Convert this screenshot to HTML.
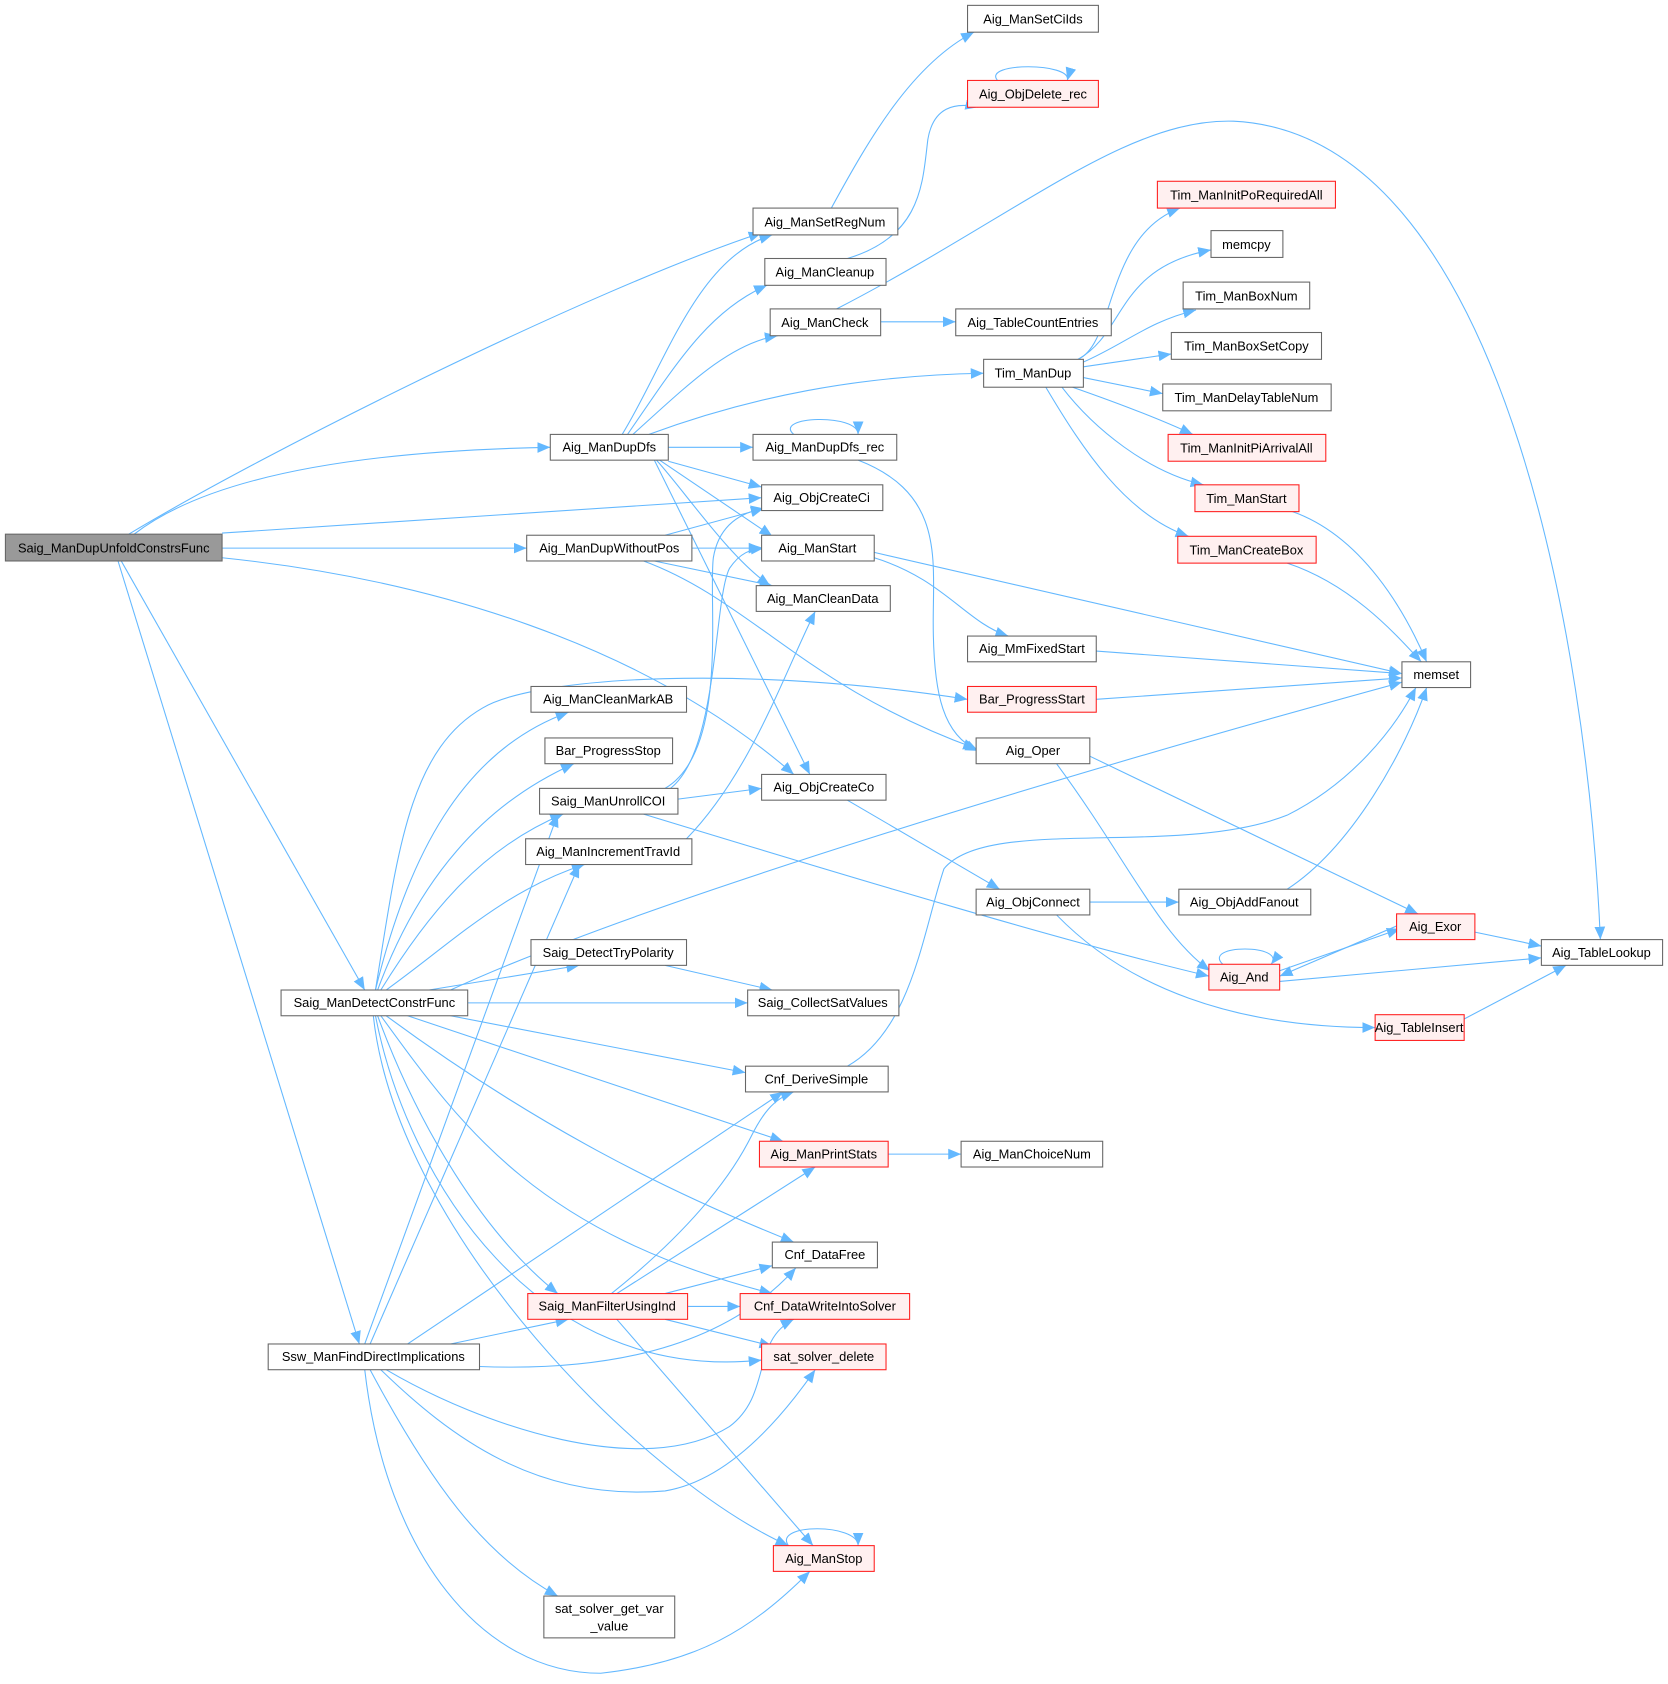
<!DOCTYPE html>
<html><head><meta charset="utf-8"><style>
html,body{margin:0;padding:0;background:#fff}
svg{display:block}
text{font-family:"Liberation Sans",Arial,sans-serif;font-size:12px;fill:#000;text-anchor:middle}
.n{fill:#fff;stroke:#666;stroke-width:1}
.r{fill:#fff0f0;stroke:#ff2020;stroke-width:1}
.g{fill:#999;stroke:#666;stroke-width:1}
.e{fill:none;stroke:#63b8ff;stroke-width:1;marker-end:url(#a)}
</style></head><body>
<svg width="1668" height="1684" viewBox="0 0 1555 1570" xmlns="http://www.w3.org/2000/svg">
<defs><marker id="a" markerUnits="userSpaceOnUse" markerWidth="13" markerHeight="11" refX="12" refY="5.5" orient="auto"><path d="M0,0.5 L12,5.5 L0,10.5 z" fill="#63b8ff"/></marker></defs>
<g>
<path class="e" d="M120,498 C250,420 550,270 710,217"/>
<path class="e" d="M125,498 C200,440 350,420 513,417"/>
<path class="e" d="M207,497 L710,464"/>
<path class="e" d="M207,511 L491,511"/>
<path class="e" d="M207,520 C400,540 600,600 740,722"/>
<path class="e" d="M113,523 L340,923"/>
<path class="e" d="M110,523 L335,1253"/>
<path class="e" d="M580,405 C620,340 650,240 720,219"/>
<path class="e" d="M585,405 C630,340 660,290 715,266"/>
<path class="e" d="M590,405 C640,360 680,320 725,313"/>
<path class="e" d="M605,405 C700,370 800,350 917,348"/>
<path class="e" d="M623,417 L702,417"/>
<path class="e" d="M623,430 L710,454"/>
<path class="e" d="M615,429 L720,500"/>
<path class="e" d="M612,429 C640,460 680,520 718,546"/>
<path class="e" d="M610,429 L755,722"/>
<path class="e" d="M740,405 C720,388 800,385 800,405"/>
<path class="e" d="M800,429 C880,460 870,520 870,580 C870,650 880,685 912,700"/>
<path class="e" d="M620,499 L712,474"/>
<path class="e" d="M645,511 L710,511"/>
<path class="e" d="M610,523 L720,546"/>
<path class="e" d="M600,523 C700,560 750,640 910,698"/>
<path class="e" d="M815,515 L1307,628"/>
<path class="e" d="M815,520 C880,540 900,580 940,593"/>
<path class="e" d="M821,300 L891,300"/>
<path class="e" d="M780,288 C950,200 1050,110 1150,113 C1400,125 1480,600 1492,876"/>
<path class="e" d="M790,241 C860,220 860,170 865,130 C870,100 890,95 912,100"/>
<path class="e" d="M930,75 C915,58 1000,58 995,75"/>
<path class="e" d="M775,194 C810,130 850,60 908,30"/>
<path class="e" d="M1005,335 C1040,320 1030,220 1100,194"/>
<path class="e" d="M1005,335 C1050,310 1040,250 1129,233"/>
<path class="e" d="M1009,338 C1050,320 1070,300 1115,289"/>
<path class="e" d="M1010,342 L1092,330"/>
<path class="e" d="M1010,352 L1084,367"/>
<path class="e" d="M1000,361 C1040,375 1080,390 1112,405"/>
<path class="e" d="M990,361 C1020,400 1070,440 1122,452"/>
<path class="e" d="M975,361 C1010,420 1050,480 1108,500"/>
<path class="e" d="M1205,477 C1270,500 1310,570 1330,617"/>
<path class="e" d="M1200,525 C1260,545 1300,590 1325,617"/>
<path class="e" d="M1022,607 L1307,628"/>
<path class="e" d="M1022,652 L1307,632"/>
<path class="e" d="M1016,705 L1322,852"/>
<path class="e" d="M985,712 C1050,800 1080,870 1128,905"/>
<path class="e" d="M790,746 L932,829"/>
<path class="e" d="M1016,841 L1099,841"/>
<path class="e" d="M985,853 C1050,920 1150,958 1282,958"/>
<path class="e" d="M1200,829 C1260,790 1310,700 1330,641"/>
<path class="e" d="M1140,899 C1120,880 1200,880 1185,899"/>
<path class="e" d="M1193,905 L1305,866"/>
<path class="e" d="M1305,862 L1193,910"/>
<path class="e" d="M1193,915 L1437,893"/>
<path class="e" d="M1375,869 L1437,882"/>
<path class="e" d="M1365,950 L1460,900"/>
<path class="e" d="M620,735 C680,700 660,560 665,520 C670,490 690,478 712,474"/>
<path class="e" d="M625,735 C670,700 665,560 680,530 C690,515 700,512 712,511"/>
<path class="e" d="M632,745 L710,735"/>
<path class="e" d="M600,759 C800,820 1000,880 1127,910"/>
<path class="e" d="M640,782 C700,720 730,630 760,570"/>
<path class="e" d="M790,994 C850,960 860,870 880,810 C920,760 1100,800 1200,760 C1260,730 1300,680 1320,641"/>
<path class="e" d="M828,1076 L896,1076"/>
<path class="e" d="M620,900 L720,923"/>
<path class="e" d="M350,923 C370,800 380,700 450,660 C500,630 700,620 902,652"/>
<path class="e" d="M350,923 C380,800 430,700 530,664"/>
<path class="e" d="M352,923 C390,820 450,750 535,712"/>
<path class="e" d="M355,923 C400,850 450,790 525,759"/>
<path class="e" d="M360,923 C420,880 470,830 545,806"/>
<path class="e" d="M400,923 L540,900"/>
<path class="e" d="M420,923 C600,840 1000,720 1307,636"/>
<path class="e" d="M436,935 L697,935"/>
<path class="e" d="M420,947 L695,1000"/>
<path class="e" d="M380,947 L730,1064"/>
<path class="e" d="M360,947 C500,1050 620,1110 740,1158"/>
<path class="e" d="M355,947 C430,1050 500,1150 720,1206"/>
<path class="e" d="M352,947 C390,1050 450,1150 520,1206"/>
<path class="e" d="M350,947 C380,1100 500,1290 710,1268"/>
<path class="e" d="M348,947 C370,1150 600,1380 735,1441"/>
<path class="e" d="M340,1253 L520,759"/>
<path class="e" d="M345,1253 L540,806"/>
<path class="e" d="M380,1253 L730,1018"/>
<path class="e" d="M420,1253 L530,1230"/>
<path class="e" d="M447,1274 C600,1280 690,1240 742,1182"/>
<path class="e" d="M360,1277 C450,1330 600,1380 680,1330 C720,1300 700,1250 740,1230"/>
<path class="e" d="M355,1277 C420,1340 500,1400 620,1390 C680,1380 730,1320 760,1277"/>
<path class="e" d="M340,1277 C360,1450 450,1560 560,1560 C650,1550 700,1520 755,1465"/>
<path class="e" d="M345,1277 C400,1380 450,1450 520,1488"/>
<path class="e" d="M570,1206 C640,1150 680,1100 700,1060 C710,1040 720,1025 740,1018"/>
<path class="e" d="M575,1206 L760,1088"/>
<path class="e" d="M620,1206 L720,1180"/>
<path class="e" d="M641,1218 L690,1218"/>
<path class="e" d="M620,1230 L720,1255"/>
<path class="e" d="M575,1230 L758,1441"/>
<path class="e" d="M735,1441 C720,1420 800,1420 800,1441"/>
</g>
<g>
<rect class="g" x="5" y="498" width="202" height="25"/><text x="106" y="515">Saig_ManDupUnfoldConstrsFunc</text>
<rect class="n" x="902" y="5" width="122" height="25"/><text x="963" y="22">Aig_ManSetCiIds</text>
<rect class="r" x="902" y="75" width="122" height="25"/><text x="963" y="92">Aig_ObjDelete_rec</text>
<rect class="n" x="702" y="194" width="135" height="25"/><text x="769" y="211">Aig_ManSetRegNum</text>
<rect class="n" x="713" y="241" width="113" height="25"/><text x="769" y="258">Aig_ManCleanup</text>
<rect class="n" x="718" y="288" width="103" height="25"/><text x="769" y="305">Aig_ManCheck</text>
<rect class="n" x="891" y="288" width="145" height="25"/><text x="963" y="305">Aig_TableCountEntries</text>
<rect class="r" x="1079" y="169" width="166" height="25"/><text x="1162" y="186">Tim_ManInitPoRequiredAll</text>
<rect class="n" x="1129" y="215" width="67" height="25"/><text x="1162" y="232">memcpy</text>
<rect class="n" x="1103" y="263" width="118" height="25"/><text x="1162" y="280">Tim_ManBoxNum</text>
<rect class="n" x="1092" y="310" width="140" height="25"/><text x="1162" y="327">Tim_ManBoxSetCopy</text>
<rect class="n" x="1084" y="358" width="157" height="25"/><text x="1162" y="375">Tim_ManDelayTableNum</text>
<rect class="r" x="1089" y="405" width="147" height="25"/><text x="1162" y="422">Tim_ManInitPiArrivalAll</text>
<rect class="r" x="1114" y="452" width="97" height="25"/><text x="1162" y="469">Tim_ManStart</text>
<rect class="r" x="1098" y="500" width="129" height="25"/><text x="1162" y="517">Tim_ManCreateBox</text>
<rect class="n" x="917" y="335" width="93" height="26"/><text x="963" y="352">Tim_ManDup</text>
<rect class="n" x="513" y="405" width="110" height="24"/><text x="568" y="421">Aig_ManDupDfs</text>
<rect class="n" x="702" y="405" width="134" height="24"/><text x="769" y="421">Aig_ManDupDfs_rec</text>
<rect class="n" x="710" y="452" width="113" height="24"/><text x="766" y="468">Aig_ObjCreateCi</text>
<rect class="n" x="710" y="499" width="105" height="24"/><text x="762" y="515">Aig_ManStart</text>
<rect class="n" x="491" y="499" width="154" height="24"/><text x="568" y="515">Aig_ManDupWithoutPos</text>
<rect class="n" x="705" y="546" width="125" height="24"/><text x="767" y="562">Aig_ManCleanData</text>
<rect class="n" x="495" y="640" width="145" height="24"/><text x="567" y="656">Aig_ManCleanMarkAB</text>
<rect class="n" x="508" y="688" width="119" height="24"/><text x="567" y="704">Bar_ProgressStop</text>
<rect class="n" x="503" y="735" width="129" height="24"/><text x="567" y="751">Saig_ManUnrollCOI</text>
<rect class="n" x="490" y="782" width="155" height="24"/><text x="567" y="798">Aig_ManIncrementTravId</text>
<rect class="n" x="495" y="876" width="145" height="24"/><text x="567" y="892">Saig_DetectTryPolarity</text>
<rect class="n" x="262" y="923" width="174" height="24"/><text x="349" y="939">Saig_ManDetectConstrFunc</text>
<rect class="n" x="697" y="923" width="141" height="24"/><text x="767" y="939">Saig_CollectSatValues</text>
<rect class="n" x="902" y="593" width="120" height="24"/><text x="962" y="609">Aig_MmFixedStart</text>
<rect class="r" x="902" y="640" width="120" height="24"/><text x="962" y="656">Bar_ProgressStart</text>
<rect class="n" x="910" y="688" width="106" height="24"/><text x="963" y="704">Aig_Oper</text>
<rect class="n" x="710" y="722" width="116" height="24"/><text x="768" y="738">Aig_ObjCreateCo</text>
<rect class="n" x="1307" y="617" width="64" height="24"/><text x="1339" y="633">memset</text>
<rect class="n" x="910" y="829" width="106" height="24"/><text x="963" y="845">Aig_ObjConnect</text>
<rect class="n" x="1099" y="829" width="123" height="24"/><text x="1160" y="845">Aig_ObjAddFanout</text>
<rect class="r" x="1302" y="852" width="73" height="24"/><text x="1338" y="868">Aig_Exor</text>
<rect class="r" x="1127" y="899" width="66" height="24"/><text x="1160" y="915">Aig_And</text>
<rect class="n" x="1437" y="876" width="113" height="24"/><text x="1493" y="892">Aig_TableLookup</text>
<rect class="r" x="1282" y="946" width="83" height="24"/><text x="1323" y="962">Aig_TableInsert</text>
<rect class="n" x="695" y="994" width="133" height="24"/><text x="761" y="1010">Cnf_DeriveSimple</text>
<rect class="r" x="708" y="1064" width="120" height="24"/><text x="768" y="1080">Aig_ManPrintStats</text>
<rect class="n" x="896" y="1064" width="132" height="24"/><text x="962" y="1080">Aig_ManChoiceNum</text>
<rect class="n" x="720" y="1158" width="98" height="24"/><text x="769" y="1174">Cnf_DataFree</text>
<rect class="r" x="492" y="1206" width="149" height="24"/><text x="566" y="1222">Saig_ManFilterUsingInd</text>
<rect class="r" x="690" y="1206" width="158" height="24"/><text x="769" y="1222">Cnf_DataWriteIntoSolver</text>
<rect class="n" x="250" y="1253" width="197" height="24"/><text x="348" y="1269">Ssw_ManFindDirectImplications</text>
<rect class="r" x="710" y="1253" width="116" height="24"/><text x="768" y="1269">sat_solver_delete</text>
<rect class="r" x="721" y="1441" width="94" height="24"/><text x="768" y="1457">Aig_ManStop</text>
<rect class="n" x="507" y="1488" width="122" height="39"/><text x="568" y="1504">sat_solver_get_var</text><text x="568" y="1520">_value</text>
</g>
</svg>
</body></html>
